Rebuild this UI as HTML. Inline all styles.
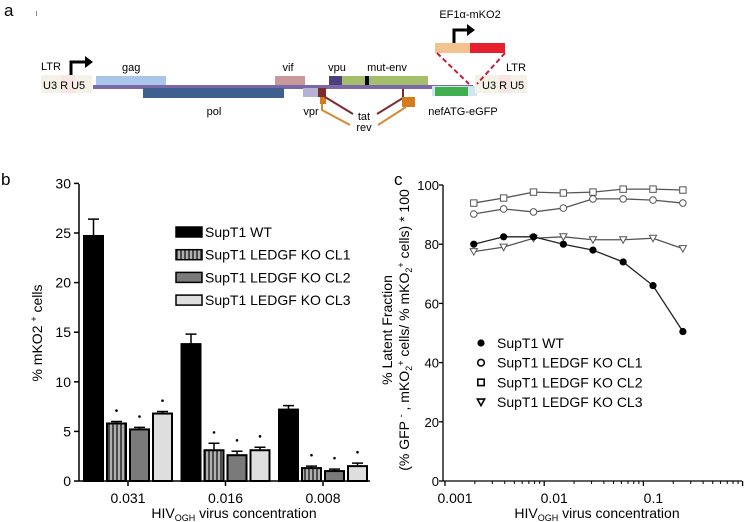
<!DOCTYPE html>
<html><head><meta charset="utf-8"><style>
body{margin:0;background:#fff}
svg{display:block;font-family:"Liberation Sans",sans-serif}
</style></head><body>
<svg id="fig" width="748" height="522" viewBox="0 0 748 522" xmlns="http://www.w3.org/2000/svg">
<defs>
<pattern id="stripes" width="4" height="8" patternUnits="userSpaceOnUse"><rect width="4" height="8" fill="#b0b0b0"/><rect width="2" height="8" fill="#4a4a4a"/></pattern>
</defs>
<!-- Panel a -->
<g>
<text x="4" y="16" font-size="17">a</text>
<rect x="36" y="11" width="1" height="5" fill="#888"/>
<rect x="41" y="75" width="20" height="18" fill="#f4f1e6"/><rect x="61" y="75" width="14" height="18" fill="#f8e6e4"/><rect x="75" y="75" width="17" height="18" fill="#f4f1e6"/>
<text x="41" y="70" font-size="11">LTR</text>
<text x="43" y="89" font-size="11">U3 R U5</text>
<path d="M71 75 V62 H86" stroke="#000" stroke-width="3" fill="none"/><path d="M85 56 L93 62 L85 68Z" fill="#000"/>
<rect x="93" y="85" width="380" height="4" fill="#7b68a8"/>
<rect x="96" y="76" width="70" height="9" fill="#a9c5ea"/>
<text x="122" y="71" font-size="11">gag</text>
<rect x="143" y="88" width="141" height="10" fill="#3f5f8e"/>
<text x="214" y="115" font-size="11" text-anchor="middle">pol</text>
<rect x="275" y="76" width="30" height="9" fill="#c9999a"/>
<text x="288" y="71" font-size="11" text-anchor="middle">vif</text>
<rect x="329" y="76" width="13" height="9" fill="#4d3f7a"/>
<text x="337" y="71" font-size="11" text-anchor="middle">vpu</text>
<rect x="342" y="76" width="86" height="9" fill="#a3bf6b"/><rect x="365" y="76" width="4" height="9" fill="#000"/>
<text x="387" y="71" font-size="11" text-anchor="middle">mut-env</text>
<rect x="303" y="88" width="15" height="9" fill="#b9b0d6"/><rect x="318" y="88" width="8" height="9" fill="#7a2c2c"/>
<rect x="320" y="97" width="6" height="7" fill="#d67a1e"/>
<text x="311" y="115" font-size="11" text-anchor="middle">vpr</text>
<path d="M325 97 L353 114" stroke="#7a2c2c" stroke-width="2" fill="none"/>
<path d="M322 104 V110 L350 125" stroke="#d68a2e" stroke-width="2" fill="none"/>
<path d="M403 89 V98 L377 114" stroke="#7a2c2c" stroke-width="2" fill="none"/>
<rect x="402" y="97" width="13" height="10" fill="#d67a1e"/>
<path d="M406 107 L378 125" stroke="#d68a2e" stroke-width="2" fill="none"/>
<text x="364" y="120" font-size="11" text-anchor="middle">tat</text>
<text x="364" y="131" font-size="11" text-anchor="middle">rev</text>
<rect x="432" y="86" width="45" height="10" fill="#cfe6f0"/><rect x="435" y="87" width="33" height="9" fill="#3fae4f"/>
<text x="463" y="115" font-size="11" text-anchor="middle">nefATG-eGFP</text>
<rect x="475" y="75" width="24" height="18" fill="#f4f1e6"/><rect x="499" y="75" width="12" height="18" fill="#f8e6e4"/><rect x="511" y="75" width="16" height="18" fill="#f4f1e6"/>
<text x="482" y="89" font-size="11">U3 R U5</text>
<text x="506" y="71" font-size="11">LTR</text>
<rect x="435" y="43" width="35" height="10" fill="#f2c28f"/><rect x="470" y="43" width="35" height="10" fill="#e8202e"/>
<path d="M454 43 V30 H468" stroke="#000" stroke-width="3" fill="none"/><path d="M467 24 L475 30 L467 36Z" fill="#000"/>
<text x="470" y="18" font-size="11" text-anchor="middle">EF1α-mKO2</text>
<path d="M437 53 L469 84 M505 53 L477 84" stroke="#c0203a" stroke-width="2" stroke-dasharray="5,3" fill="none"/>
</g>
<text x="1" y="185" font-size="17">b</text>
<text x="394" y="185" font-size="17">c</text>
<g id="chartB"></g>
<g id="chartC"></g>
</svg>
<script>
const NS='http://www.w3.org/2000/svg';
function mk(parent,tag,attrs){const e=document.createElementNS(NS,tag);for(const k in attrs)e.setAttribute(k,attrs[k]);parent.appendChild(e);return e;}

// ---- Panel b data ----
const bCategories=['0.031','0.016','0.008'];
const bSeriesNames=['SupT1 WT','SupT1 LEDGF KO CL1','SupT1 LEDGF KO CL2','SupT1 LEDGF KO CL3'];
const bWT=[24.7,13.8,7.2];
const bCL1=[5.8,3.1,1.3];
const bCL2=[5.2,2.6,1.0];
const bCL3=[6.8,3.1,1.5];
const bWTerr=[1.7,1.0,0.4];
const bCL1err=[0.2,0.7,0.2];
const bCL2err=[0.2,0.4,0.2];
const bCL3err=[0.2,0.3,0.3];
const bYTicks=[0,5,10,15,20,25,30];

// ---- Panel c data ----
const cX=[0.00195,0.0039,0.0078,0.0156,0.031,0.0625,0.125,0.25];
const cWT=[80,82.5,82.5,80,78,74,66,50.5];
const cCL1=[90.2,91.9,90.9,92.2,95.3,95.3,94.9,93.9];
const cCL2=[93.9,95.6,97.6,97.3,97.6,98.6,98.6,98.3];
const cCL3=[77.5,79,82,82.5,81.5,81.5,82,78.5];
const cYTicks=[0,20,40,60,80,100];
const cXTicks=[0.001,0.01,0.1,1];
const cXTickLabels=['0.001','0.01','0.1','1'];

// ---- Chart B ----
(function(){
const g=document.getElementById('chartB');
const x0=79,y0=481,pxPerUnit=9.92;
const yS=v=>y0-v*pxPerUnit;
const groupC=i=>128+i*97.5;
mk(g,'line',{x1:x0,y1:184,x2:x0,y2:y0,stroke:'#000','stroke-width':1.5});
mk(g,'line',{x1:x0,y1:y0,x2:370,y2:y0,stroke:'#000','stroke-width':1.5});
bYTicks.forEach(t=>{
 mk(g,'line',{x1:x0-5,y1:yS(t),x2:x0,y2:yS(t),stroke:'#000','stroke-width':1.5});
 const tx=mk(g,'text',{x:x0-8,y:yS(t)+5,'font-size':14,'text-anchor':'end'});tx.textContent=t;
 
 
});
bCategories.forEach((c,i)=>{
 mk(g,'line',{x1:groupC(i),y1:y0,x2:groupC(i),y2:y0+5,stroke:'#000','stroke-width':1.5});
 const tx=mk(g,'text',{x:groupC(i),y:503,'font-size':14,'text-anchor':'middle'});tx.textContent=c;
 
 
});
const series=[bWT,bCL1,bCL2,bCL3],errs=[bWTerr,bCL1err,bCL2err,bCL3err];
const fills=['#000','url(#stripes)','#7a7a7a','#dedede'];
series.forEach((s,si)=>{
 s.forEach((v,i)=>{
  const bx=groupC(i)-45+si*23;
  const top=yS(v+errs[si][i]);
  const eb=mk(g,'path',{d:`M${bx+10.5} ${yS(v)} V${top} M${bx+5} ${top} H${bx+16}`,stroke:'#000','stroke-width':1.5,fill:'none'});
  
  
  const r=mk(g,'rect',{x:bx+1,y:yS(v),width:19,height:v*pxPerUnit,fill:fills[si],stroke:'#000','stroke-width':2});
  
  
  if(si>0){const d=mk(g,'circle',{cx:bx+10.5,cy:yS(v+errs[si][i]+1.1),r:1.3,fill:'#000'});
   
   }
 });
});
bSeriesNames.forEach((n,i)=>{
 const y=232+i*22.7;
 const r=mk(g,'rect',{x:176,y:y-5,width:26,height:10,fill:fills[i],stroke:'#000','stroke-width':1.5});
 
 
 const t=mk(g,'text',{x:205,y:y+5,'font-size':14});t.textContent=n;
 
 
});
const yt=mk(g,'text',{transform:'translate(42,333) rotate(-90)','font-size':14,'text-anchor':'middle'});
yt.innerHTML='% mKO2 <tspan font-size="9" dy="-5">+</tspan><tspan dy="5"> cells</tspan>';


const xt=mk(g,'text',{x:234,y:518,'font-size':14,'text-anchor':'middle'});
xt.innerHTML='HIV<tspan font-size="9" dy="3">OGH</tspan><tspan dy="-3"> virus concentration</tspan>';


})();

// ---- Chart C ----
(function(){
const g=document.getElementById('chartC');
const x0=443,y0=481,ppu=2.96,decade=99.2,xl=445;
const yS=v=>y0-v*ppu;
const xS=v=>xl+(Math.log10(v)+3)*decade;
mk(g,'line',{x1:x0,y1:185,x2:x0,y2:y0,stroke:'#000','stroke-width':1.3});
mk(g,'line',{x1:x0,y1:y0,x2:742,y2:y0,stroke:'#000','stroke-width':1.3});
cYTicks.forEach(t=>{
 mk(g,'line',{x1:x0-4,y1:yS(t),x2:x0,y2:yS(t),stroke:'#000','stroke-width':1.3});
 const tx=mk(g,'text',{x:x0-4,y:yS(t)+5,'font-size':13,'text-anchor':'end'});tx.textContent=t;
 
 
});
cXTicks.forEach((t,i)=>{
 mk(g,'line',{x1:xS(t),y1:y0,x2:xS(t),y2:y0+5,stroke:'#000','stroke-width':1.3});
 if(i<cXTicks.length-1){for(let m=2;m<10;m++){mk(g,'line',{x1:xS(t*m),y1:y0,x2:xS(t*m),y2:y0+3,stroke:'#000','stroke-width':1});}}
 const tx=mk(g,'text',{x:xS(t)+10,y:503,'font-size':14,'text-anchor':'middle'});tx.textContent=cXTickLabels[i];
 
 
});
function marker(p,type,x,y){
 let e;
 if(type==='dot')e=mk(p,'circle',{cx:x,cy:y,r:3.6,fill:'#000'});
 else if(type==='circle')e=mk(p,'circle',{cx:x,cy:y,r:3.3,fill:'#fff',stroke:'#555','stroke-width':1});
 else if(type==='square')e=mk(p,'rect',{x:x-3.2,y:y-3.2,width:6.4,height:6.4,fill:'#fff',stroke:'#555','stroke-width':1});
 else e=mk(p,'path',{d:`M${x-3.6} ${y-3} H${x+3.6} L${x} ${y+3.5}Z`,fill:'#fff',stroke:'#555','stroke-width':1});
 return e;
}
const series=[cCL2,cCL1,cCL3,cWT],types=['square','circle','tri','dot'],cols=['#555','#555','#555','#222'];
series.forEach((s,si)=>{
 const sg=mk(g,'g',{});
 
 
 const d=s.map((v,i)=>(i?'L':'M')+xS(cX[i])+' '+yS(v)).join(' ');
 mk(sg,'path',{d:d,fill:'none',stroke:cols[si],'stroke-width':1.3});
 s.forEach((v,i)=>{const m=marker(sg,types[si],xS(cX[i]),yS(v));
  
  });
});
const names=['SupT1 WT','SupT1 LEDGF KO CL1','SupT1 LEDGF KO CL2','SupT1 LEDGF KO CL3'],lt=['dot','circle','square','tri'];
names.forEach((n,i)=>{
 const y=343+i*19.7;
 const lg=mk(g,'g',{});
 
 
 const m=marker(lg,lt[i],481,y);
 if(lt[i]!=='dot'){m.setAttribute('stroke','#000');m.setAttribute('stroke-width','1.6');}
 const t=mk(lg,'text',{x:497,y:y+5,'font-size':14});t.textContent=n;
});
const y1=mk(g,'text',{transform:'translate(392,330) rotate(-90)','font-size':14,'text-anchor':'middle'});
y1.textContent='% Latent Fraction';


const y2=mk(g,'text',{transform:'translate(409,330) rotate(-90)','font-size':14,'text-anchor':'middle'});
y2.innerHTML='(% GFP <tspan font-size="9" dy="-5">-</tspan><tspan dy="5"> , mKO</tspan><tspan font-size="9" dy="3">2</tspan><tspan font-size="9" dy="-8">+</tspan><tspan dy="5"> cells/ % mKO</tspan><tspan font-size="9" dy="3">2</tspan><tspan font-size="9" dy="-8">+</tspan><tspan dy="5"> cells) * 100</tspan>';


const xt=mk(g,'text',{x:597,y:518,'font-size':14,'text-anchor':'middle'});
xt.innerHTML='HIV<tspan font-size="9" dy="3">OGH</tspan><tspan dy="-3"> virus concentration</tspan>';


})();
</script>
</body></html>
